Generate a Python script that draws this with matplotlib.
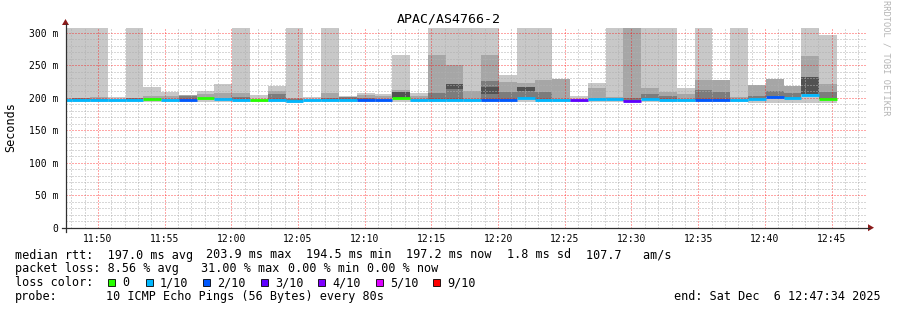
import matplotlib
matplotlib.use("Agg")
import matplotlib.pyplot as plt
from matplotlib.patches import Rectangle, Polygon
from matplotlib.lines import Line2D
import numpy as np

# ---------------- data ----------------
title = "APAC/AS4766-2"
start_time = "11:47:34"
end_text = "end: Sat Dec  6 12:47:34 2025"
first_bar_start = "11:46:44"
span_s = 3600
step_s = 80

x_tick_labels = ["11:50", "11:55", "12:00", "12:05", "12:10", "12:15",
                 "12:20", "12:25", "12:30", "12:35", "12:40", "12:45"]
y_ticks = [0, 50, 100, 150, 200, 250, 300]
y_tick_labels = ["0", "50 m", "100 m", "150 m", "200 m", "250 m", "300 m"]

# median rtt per 80 s step (ms)
median_ms = [196.5, 196.5, 196.0, 196.0, 196.5, 198.5, 196.0, 196.0, 199.5, 198.5,
             196.5, 196.5, 196.0, 194.5, 196.0, 196.0, 196.0, 196.5, 196.5, 200.0,
             196.0, 196.0, 196.0, 196.0, 196.5, 197.0, 200.0, 196.0, 196.0, 197.0,
             197.5, 198.5, 195.5, 198.5, 196.0, 196.0, 197.0, 196.0, 196.0, 198.0,
             201.5, 200.0, 204.0, 198.5]
# lost pings out of 10
loss = [1, 1, 1, 1, 1, 0, 1, 2, 0, 1,
        1, 0, 1, 1, 1, 1, 1, 2, 2, 0,
        1, 1, 1, 1, 2, 2, 1, 1, 1, 3,
        1, 1, 3, 1, 1, 1, 2, 2, 1, 1,
        2, 1, 1, 0]
# smoke: lowest ping and outer (light) envelope top
smoke_min = [194, 194, 194, 194, 194, 194, 194, 194, 194, 194,
             194, 194, 194, 192, 194, 194, 194, 194, 194, 194,
             194, 194, 194, 194, 194, 194, 194, 194, 194, 194,
             194, 194, 194, 194, 194, 194, 194, 194, 194, 192.5,
             192.5, 192.5, 192.5, 192.5]
smoke_light = [320, 320, 320, 201.5, 320, 216.5, 209, 204.5, 210, 220.5,
               320, 204, 218.5, 320, 201.5, 320, 202, 207.5, 206, 265.5,
               206.5, 320, 320, 320, 320, 235, 320, 320, 229.5, 202.5,
               222, 320, 320, 320, 320, 214.5, 320, 227, 320, 219.5,
               229, 218.5, 320, 296.5]
smoke_mid = [199, 199.5, 200.5, 0, 200, 203, 202, 204, 205, 207,
             207.5, 0, 210, 200, 0, 207.5, 201.5, 204, 203, 212.5,
             203, 265.5, 250, 210, 265.5, 224.5, 222, 227, 229.5, 0,
             214.5, 201, 320, 214.5, 208, 205, 227, 227, 201, 219.5,
             229, 218.5, 264.5, 220.5]
smoke_dark = [0, 199, 198.5, 0, 199, 0, 0, 203, 0, 0,
              201, 0, 205, 198, 0, 199, 200.5, 200, 0, 0,
              0, 207.5, 213.5, 0, 225.5, 209, 210, 209, 0, 0,
              0, 0, 200, 206, 202, 0, 212, 209.5, 0, 203,
              211, 207, 0, 209]
core_lo = [0, 0, 0, 0, 0, 0, 0, 0, 0, 0,
           0, 0, 0, 0, 0, 0, 0, 0, 0, 200,
           0, 0, 213.5, 0, 205.5, 0, 210, 0, 0, 0,
           0, 0, 0, 0, 0, 0, 0, 0, 0, 0,
           0, 0, 205, 0]
core_hi = [0, 0, 0, 0, 0, 0, 0, 0, 0, 0,
           0, 0, 0, 0, 0, 0, 0, 0, 0, 209.5,
           0, 0, 221, 0, 217, 0, 217, 0, 0, 0,
           0, 0, 0, 0, 0, 0, 0, 0, 0, 0,
           0, 0, 231.5, 0]

loss_levels = [0, 1, 2, 3, 4, 5, 9]
loss_labels = ["0", "1/10", "2/10", "3/10", "4/10", "5/10", "9/10"]
loss_colors = ["#26ff00", "#00b8ff", "#0059ff", "#5e00ff", "#7e00ff", "#dd00ff", "#ff0000"]

stat_line1 = [("median rtt:  197.0 ms avg", 16), ("203.9 ms max", 207),
              ("194.5 ms min", 307), ("197.2 ms now", 407),
              ("1.8 ms sd", 508), ("107.7   am/s", 587)]
stat_line2 = [("packet loss: 8.56 % avg", 16), ("31.00 % max", 202),
              ("0.00 % min", 289), ("0.00 % now", 368)]
probe_label = "probe:"
probe_text = "10 ICMP Echo Pings (56 Bytes) every 80s"

# ---------------- drawing ----------------
W, H = 897, 310
DPI = 100
MONO = "DejaVu Sans Mono"
fig = plt.figure(figsize=(W / DPI, H / DPI), dpi=DPI)
fig.patch.set_facecolor("white")


def fx(x):
    return x / W


def fy(y):
    return 1 - y / H


ax_l, ax_r, ax_t, ax_b = 65.5, 865.8, 27.7, 227.7
ax = fig.add_axes([fx(ax_l), fy(ax_b), (ax_r - ax_l) / W, (ax_b - ax_t) / H])
ax.set_facecolor("white")


def secs(hms):
    parts = [int(p) for p in hms.split(":")]
    while len(parts) < 3:
        parts.append(0)
    return parts[0] * 3600 + parts[1] * 60 + parts[2]


t0 = secs(start_time)
n = len(median_ms)
bar_x = (secs(first_bar_start) - t0) + step_s * np.arange(n)
med = np.array(median_ms, float)
smin = np.array(smoke_min, float)
light = np.array(smoke_light, float)
mid = np.array(smoke_mid, float)
dark = np.array(smoke_dark, float)
clo = np.array(core_lo, float)
chi = np.array(core_hi, float)

C_LIGHT, C_MID, C_DARK, C_CORE = "#c8c8c8", "#a6a6a6", "#7c7c7c", "#525252"
kw = dict(width=step_s, align="edge", linewidth=0, antialiased=False, zorder=1)
ax.bar(bar_x, light - smin, bottom=smin, color=C_LIGHT, **kw)
m = mid > 0
ax.bar(bar_x[m], mid[m] - med[m], bottom=med[m], color=C_MID, **kw)
m = dark > 0
ax.bar(bar_x[m], dark[m] - med[m], bottom=med[m], color=C_DARK, **kw)
m = chi > 0
ax.bar(bar_x[m], chi[m] - clo[m], bottom=clo[m], color=C_CORE, **kw)

cmap = dict(zip(loss_levels, loss_colors))
ax.hlines(med, bar_x, bar_x + step_s, colors=[cmap[l] for l in loss],
          linewidth=2.0, zorder=4, capstyle="butt")

ymax = (ax_b - ax_t) / 0.65
ax.set_xlim(0, span_s)
ax.set_ylim(0, ymax)

major_x = [secs(l) - t0 for l in x_tick_labels]
minor_x = [t for t in range(secs("11:48") - t0, span_s + 1, 60) if t not in major_x]
minor_y = [v for v in range(0, int(ymax) + 1, 10) if v not in y_ticks]
ax.set_xticks(major_x)
ax.set_xticklabels(x_tick_labels)
ax.set_xticks(minor_x, minor=True)
ax.set_yticks(y_ticks)
ax.set_yticklabels(y_tick_labels)
ax.set_yticks(minor_y, minor=True)
ax.set_axisbelow(False)
ax.grid(which="minor", color="#b0b0b0", alpha=0.5, linewidth=0.75,
        linestyle=(0, (1, 1.6)), antialiased=False)
ax.grid(which="major", color="#ff0000", alpha=0.35, linewidth=0.75,
        linestyle=(0, (1, 1.6)), antialiased=False)
ax.tick_params(which="both", length=0)
ax.tick_params(axis="x", pad=4.5, labelsize=7)
ax.tick_params(axis="y", pad=5, labelsize=7)
for lab in ax.get_xticklabels() + ax.get_yticklabels():
    lab.set_fontfamily(MONO)
for s in ax.spines.values():
    s.set_visible(False)

# axis lines with arrows
axis_col = "#303030"
fig.add_artist(Line2D([fx(ax_l), fx(ax_l)], [fy(232), fy(24)], color=axis_col, lw=0.9))
fig.add_artist(Line2D([fx(62), fx(869)], [fy(ax_b), fy(ax_b)], color=axis_col, lw=0.9))
arrow_col = "#8b1a1a"
fig.add_artist(Polygon([[fx(ax_l - 3.5), fy(25)], [fx(ax_l + 3.5), fy(25)], [fx(ax_l), fy(19)]],
                       closed=True, color=arrow_col, lw=0))
fig.add_artist(Polygon([[fx(868), fy(ax_b - 3.5)], [fx(868), fy(ax_b + 3.5)], [fx(874), fy(ax_b)]],
                       closed=True, color=arrow_col, lw=0))

# titles and labels
fig.text(0.5, fy(19), title, ha="center", va="center", fontsize=9.5, family=MONO, color="#000000")
fig.text(fx(11), fy(127), "Seconds", ha="center", va="center", rotation=90,
         fontsize=8.5, family=MONO)
fig.text(fx(886), fy(58), "RRDTOOL / TOBI OETIKER", ha="center", va="center",
         rotation=270, fontsize=6.2, family=MONO, color="#b4b4b4")

FS = 8.5
for txt, x in stat_line1:
    fig.text(fx(x - 1), fy(255), txt, ha="left", va="center", fontsize=FS, family=MONO)
for txt, x in stat_line2:
    fig.text(fx(x - 1), fy(268.5), txt, ha="left", va="center", fontsize=FS, family=MONO)
fig.text(fx(15), fy(282.5), "loss color:", ha="left", va="center", fontsize=FS, family=MONO)
sq_x = [108, 146, 203, 261, 318, 376, 433]
for x, lab, col in zip(sq_x, loss_labels, loss_colors):
    fig.add_artist(Rectangle((fx(x), fy(286)), 7 / W, 7 / H, facecolor=col,
                             edgecolor="#000000", lw=0.6))
    fig.text(fx(x + 14), fy(282.5), lab, ha="left", va="center", fontsize=FS, family=MONO)
fig.text(fx(15), fy(296.5), probe_label, ha="left", va="center", fontsize=FS, family=MONO)
fig.text(fx(106), fy(296.5), probe_text, ha="left", va="center", fontsize=FS, family=MONO)
fig.text(fx(881), fy(296.5), end_text, ha="right", va="center", fontsize=FS, family=MONO)

fig.savefig("out.png", dpi=DPI, facecolor="white")
